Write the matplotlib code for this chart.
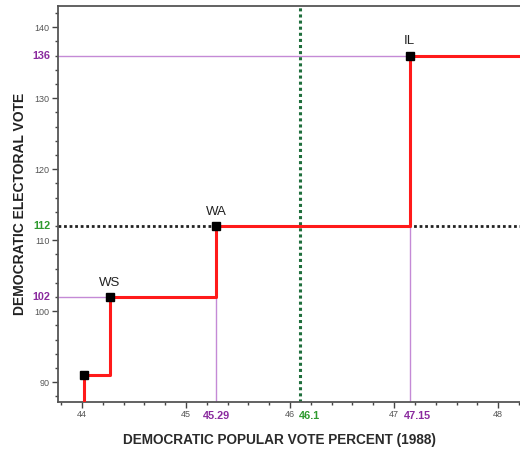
import matplotlib.pyplot as plt
from matplotlib.ticker import MultipleLocator

plt.rcParams['font.family'] = ['Liberation Sans', 'DejaVu Sans']

# step points (popular vote %, electoral vote)
states = ["", "WS", "WA", "IL"]
pop_vote = [44.02, 44.27, 45.29, 47.15]
elec_vote = [91, 102, 112, 136]

x_ticks = [44, 45, 46, 47, 48]
y_ticks = [90, 100, 110, 120, 130, 140]

actual_pct = 46.1
needed_ev = 112

xmin, xmax = 43.77, 48.21
ymin, ymax = 87.2, 143.0

purple_line = "#c48ad6"
purple_txt = "#8a2a9e"
green_line = "#1f6e3c"
green_txt = "#2f9a2f"

fig = plt.figure(figsize=(5.2, 4.55), dpi=100)
ax = fig.add_axes([0.1115, 0.1165, 0.8885, 0.8705])

# guide lines
ax.plot([xmin, pop_vote[3]], [elec_vote[3]] * 2, color=purple_line, lw=1, zorder=2)
ax.plot([xmin, pop_vote[1]], [elec_vote[1]] * 2, color=purple_line, lw=1, zorder=2)
ax.plot([pop_vote[2]] * 2, [ymin, elec_vote[1]], color=purple_line, lw=1, zorder=2)
ax.plot([pop_vote[3]] * 2, [ymin, elec_vote[2]], color=purple_line, lw=1, zorder=2)
ax.axhline(needed_ev, color="#222222", lw=2, ls=(0, (1, 1)), zorder=2)
ax.axvline(actual_pct, color=green_line, lw=2.2, ls=(0, (1, 1)), zorder=2)

# step curve
sx = [pop_vote[0]] + pop_vote + [xmax]
sy = [ymin] + elec_vote + [elec_vote[-1]]
ax.plot(sx, sy, drawstyle="steps-post", color="#ff1a1a", lw=2.2, zorder=3)
ax.plot(pop_vote, elec_vote, ls="none", marker="s", ms=6, color="black", zorder=4)

for name, x, y in zip(states, pop_vote, elec_vote):
    if name:
        ax.annotate(name, (x, y), xytext=(0, 6), textcoords="offset points",
                    ha="center", va="bottom", fontsize=9.5, color="#222222")

ax.set_xlim(xmin, xmax)
ax.set_ylim(ymin, ymax)
ax.set_xticks(x_ticks)
ax.set_yticks(y_ticks)
ax.xaxis.set_minor_locator(MultipleLocator(0.2))
ax.yaxis.set_minor_locator(MultipleLocator(2))
ax.tick_params(axis="both", which="major", labelsize=6.5, labelcolor="#555555",
               color="#444444", length=4, width=1, pad=2)
ax.tick_params(axis="both", which="minor", color="#444444", length=2, width=1)

ax.spines["right"].set_visible(False)
for s in ["left", "bottom", "top"]:
    ax.spines[s].set_color("#555555")
    ax.spines[s].set_linewidth(1.3)

# coloured value labels
bold = dict(fontsize=7.8, fontweight="bold")
ax.text(xmin - 0.07, elec_vote[3], "136", color=purple_txt, ha="right", va="center", **bold)
ax.text(xmin - 0.07, needed_ev, "112", color=green_txt, ha="right", va="center", **bold)
ax.text(xmin - 0.07, elec_vote[1], "102", color=purple_txt, ha="right", va="center", **bold)
ax.text(pop_vote[2], ymin - 1.3, "45.29", color=purple_txt, ha="center", va="top", **bold)
ax.text(actual_pct + 0.09, ymin - 1.3, "46.1", color=green_txt, ha="center", va="top", **bold)
ax.text(pop_vote[3] + 0.07, ymin - 1.3, "47.15", color=purple_txt, ha="center", va="top", **bold)

ax.set_xlabel("DEMOCRATIC POPULAR VOTE PERCENT (1988)", fontsize=9.8, color="#2a2a2a",
              fontweight="bold")
ax.set_ylabel("DEMOCRATIC ELECTORAL VOTE", fontsize=10, color="#222222", fontweight="bold")
ax.xaxis.set_label_coords(0.48, -0.078)
ax.yaxis.set_label_coords(-0.067, 0.5)

fig.savefig("out.png", dpi=100)
